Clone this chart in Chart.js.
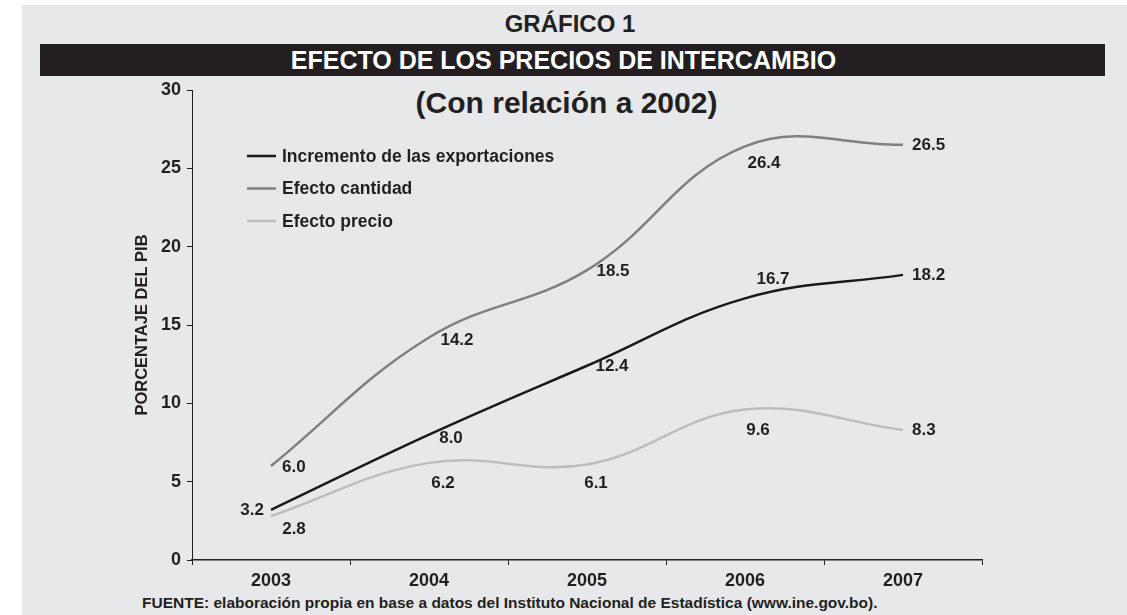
<!DOCTYPE html>
<html>
<head>
<meta charset="utf-8">
<script src="https://cdn.jsdelivr.net/npm/chart.js@4"></script>
<style>
    html, body {margin: 0; padding: 0; background: #fff;}
    #frame {position: absolute; left: 22px; top: 5px; width: 1105px; height: 610px; background: #e7e8ea;}
    .txt {position: absolute; font-family: 'Liberation Sans', Arial, sans-serif; font-weight: bold; color: #231f20; white-space: nowrap;}
    #t1 {left: 0; width: 1140px; top: 10px; text-align: center; font-size: 24px;}
    #bar {position: absolute; left: 40px; top: 44px; width: 1065px; height: 32px; background: #231f20;}
    #t2 {left: 0; width: 1127px; top: 44px; line-height: 32px; text-align: center; font-size: 25px; color: #fff;}
    #t3 {left: 0; width: 1133px; top: 86px; text-align: center; font-size: 30px;}
    #src {left: 142px; top: 594px; font-size: 15.5px;}
    canvas {position: absolute; left: 0; top: 0;}
</style>
</head>
<body>
<div id="frame"></div>
<div id="bar"></div>
<div class="txt" id="t1">GRÁFICO 1</div>
<div class="txt" id="t2">EFECTO DE LOS PRECIOS DE INTERCAMBIO</div>
<div class="txt" id="t3">(Con relación a 2002)</div>
<div class="txt" id="src">FUENTE: elaboración propia en base a datos del Instituto Nacional de Estadística (www.ine.gov.bo).</div>
<div style="position:absolute;left:0;top:0;width:1127px;height:615px">
    <canvas id="chart" width="1127" height="615"></canvas>
</div>
<script>
const years = ['2003', '2004', '2005', '2006', '2007']
const incremento = [3.2, 8.0, 12.4, 16.7, 18.2]
const cantidad = [6.0, 14.2, 18.5, 26.4, 26.5]
const precio = [2.8, 6.2, 6.1, 9.6, 8.3]
const seriesNames = ['Incremento de las exportaciones', 'Efecto cantidad', 'Efecto precio']

const FONT = "'Liberation Sans', Arial, sans-serif"
const INK = '#231f20'
const colors = ['#1a1a1a', '#808080', '#bdbdbd']

// label placement relative to each point: [dx, dy, align]
const labelOffsets = [
    [[-7, 0, 'right'], [22, 4, 'center'], [25, 1, 'center'], [28, -19, 'center'], [9, 0, 'left']],
    [[11, 1, 'left'], [28, 3, 'center'], [26, 1, 'center'], [19, 17, 'center'], [9, 0, 'left']],
    [[23, 13, 'center'], [14, 20, 'center'], [9, 19, 'center'], [13, 21, 'center'], [9, 0, 'left']],
]

const pointLabels = {
    id: 'point-labels',
    afterDatasetsDraw(chart) {
        const {ctx} = chart
        ctx.save()
        ctx.fillStyle = INK
        ctx.font = `bold 17px ${FONT}`
        ctx.textBaseline = 'middle'
        chart.data.datasets.forEach((ds, di) => {
            chart.getDatasetMeta(di).data.forEach((pt, i) => {
                const [dx, dy, align] = labelOffsets[di][i]
                ctx.textAlign = align
                ctx.fillText(ds.data[i].toFixed(1), pt.x + dx, pt.y + dy)
            })
        })
        ctx.restore()
    },
}

const insideLegend = {
    id: 'inside-legend',
    afterDraw(chart) {
        const {ctx} = chart
        ctx.save()
        ctx.font = `bold 17.5px ${FONT}`
        ctx.textBaseline = 'middle'
        ctx.textAlign = 'left'
        chart.data.datasets.forEach((ds, i) => {
            const y = 156 + i * 32.5
            ctx.strokeStyle = ds.borderColor
            ctx.lineWidth = 2.5
            ctx.beginPath()
            ctx.moveTo(247, y)
            ctx.lineTo(276, y)
            ctx.stroke()
            ctx.fillStyle = INK
            ctx.fillText(ds.label, 282, y + 1)
        })
        ctx.restore()
    },
}

const makeSet = (label, data, color) => ({
    label, data,
    borderColor: color,
    borderWidth: 2.5,
    pointRadius: 0,
    tension: 0.4,
    fill: false,
})

new Chart(document.getElementById('chart'), {
    type: 'line',
    data: {
        labels: years,
        datasets: [
            makeSet(seriesNames[0], incremento, colors[0]),
            makeSet(seriesNames[1], cantidad, colors[1]),
            makeSet(seriesNames[2], precio, colors[2]),
        ],
    },
    options: {
        responsive: false,
        animation: false,
        layout: {padding: {left: 128, right: 145, top: 90, bottom: 0}},
        plugins: {
            legend: {display: false},
            tooltip: {enabled: false},
        },
        scales: {
            x: {
                offset: true,
                afterFit: s => { s.height = 55 },
                grid: {offset: true, drawOnChartArea: false, tickLength: 5, color: INK, lineWidth: 1},
                border: {color: INK, width: 1.5},
                ticks: {color: INK, font: {family: FONT, size: 18, weight: 'bold'}, padding: 5},
            },
            y: {
                min: 0,
                max: 30,
                afterFit: s => { s.width = 64 },
                grid: {drawOnChartArea: false, tickLength: 5, color: INK},
                border: {color: INK, width: 1},
                ticks: {stepSize: 5, color: INK, font: {family: FONT, size: 18, weight: 'bold'}, padding: 6},
                title: {
                    display: true,
                    text: 'PORCENTAJE DEL PIB',
                    color: INK,
                    font: {family: FONT, size: 16.5, weight: 'bold'},
                    padding: {top: 5, bottom: 0},
                },
            },
        },
    },
    plugins: [pointLabels, insideLegend],
})
</script>
</body>
</html>
